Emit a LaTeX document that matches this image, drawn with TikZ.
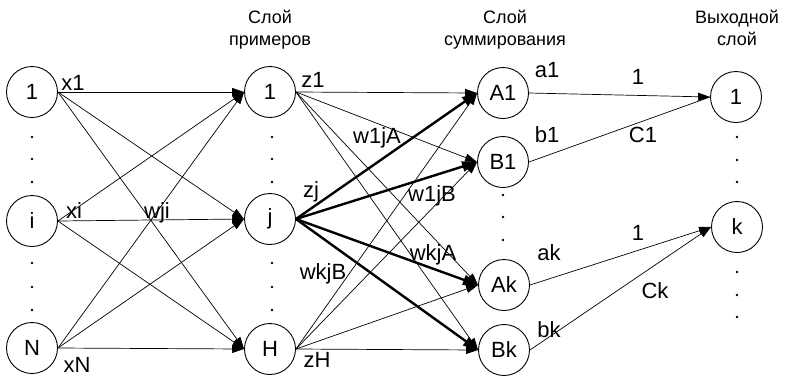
\documentclass[tikz,border=0pt]{standalone}
\usepackage{fontspec}
\setmainfont{Liberation Sans}
\usetikzlibrary{arrows.meta}
\begin{document}
\begin{tikzpicture}[x=1pt,y=-1pt,
  neuron/.style={circle,draw,line width=0.9pt,minimum size=51pt,inner sep=0pt,
    font=\fontsize{22}{26}\selectfont},
  lbl/.style={inner sep=0pt,anchor=base,font=\fontsize{22}{26}\selectfont},
  head/.style={align=center,inner sep=0pt,anchor=north,font=\fontsize{18}{22}\selectfont},
  link/.style={line width=0.7pt,-{Triangle[length=12pt,width=8pt]}},
  plain/.style={line width=0.7pt},
  strong/.style={line width=2.4pt,-{Triangle[length=15pt,width=10pt]}},
  dotm/.style={circle,fill,inner sep=0pt,minimum size=2.6pt}
]
\useasboundingbox (0,0) rectangle (791,376);

% layer titles
\node[head] (t1) at (270,10) {Слой\\примеров};
\node[head] (t2) at (505,10) {Слой\\суммирования};
\node[head] (t3) at (737,10) {Выходной\\слой};

% input layer
\node[neuron] (i1) at (32,92) {1};
\node[neuron] (ii) at (32,221) {i};
\node[neuron] (iN) at (32,348) {N};

% pattern layer
\node[neuron] (h1) at (270,92) {1};
\node[neuron] (hj) at (270,219) {j};
\node[neuron] (hH) at (270,349) {H};

% summation layer
\node[neuron] (A1) at (503,93) {A1};
\node[neuron] (B1) at (503,162) {B1};
\node[neuron] (Ak) at (504,285) {Ak};
\node[neuron] (Bk) at (504,350) {Bk};

% output layer
\node[neuron] (o1) at (736,97) {1};
\node[neuron] (ok) at (737,227) {k};

% ellipsis dots
\foreach \x/\ya/\yb/\yc in {32/137/159/182, 32/263/287/310,
                             272/137/159/182, 272/263/287/310,
                             503/195/217/240,
                             737/137/160/182, 737/272/295/317}{
  \node[dotm] at (\x,\ya) {};
  \node[dotm] at (\x,\yb) {};
  \node[dotm] at (\x,\yc) {};
}

% input -> pattern
\foreach \s in {i1,ii,iN}{
  \foreach \t in {h1,hj,hH}{
    \draw[link] (\s.east) -- (\t.west);
  }
}

% pattern -> summation (thin)
\foreach \s in {h1,hH}{
  \foreach \t in {A1,B1,Ak,Bk}{
    \draw[link] (\s.east) -- (\t.west);
  }
}
% pattern j -> summation (bold)
\foreach \t in {A1,B1,Ak,Bk}{
  \draw[strong] (hj.east) -- (\t.west);
}

% summation -> output
\draw[link] (A1.east) -- (o1.west);
\draw[plain] (B1.east) -- (o1.west);
\draw[link] (Ak.east) -- (ok.west);
\draw[link] (Bk.east) -- (ok.west);

% labels
\node[lbl] (lx1) at (73,90) {x1};
\node[lbl] (lxi) at (74,218) {xi};
\node[lbl] (lwji) at (157,218) {wji};
\node[lbl] (lxN) at (77,372) {xN};
\node[lbl] (lz1) at (313,87) {z1};
\node[lbl] (lzj) at (311,197) {zj};
\node[lbl] (lzH) at (317,367) {zH};
\node[lbl] (lw1jA) at (377,143) {w1jA};
\node[lbl] (lw1jB) at (432,201) {w1jB};
\node[lbl] (lwkjA) at (433,260) {wkjA};
\node[lbl] (lwkjB) at (323,279) {wkjB};
\node[lbl] (la1) at (547,77) {a1};
\node[lbl] (lb1) at (547,142) {b1};
\node[lbl] (lak) at (549,260) {ak};
\node[lbl] (lbk) at (549,337) {bk};
\node[lbl] (lone1) at (638,84) {1};
\node[lbl] (lC1) at (643,142) {C1};
\node[lbl] (lonek) at (638,240) {1};
\node[lbl] (lCk) at (655,298) {Ck};
\end{tikzpicture}
\end{document}
